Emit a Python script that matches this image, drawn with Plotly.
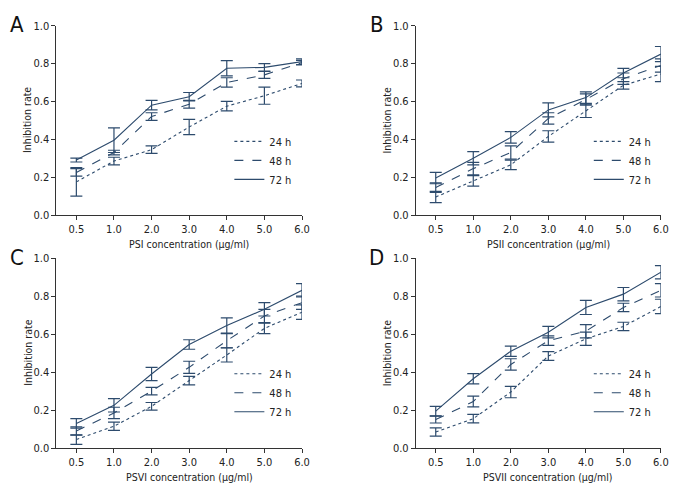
import plotly.graph_objects as go

conc_labels = ["0.5", "1.0", "2.0", "3.0", "4.0", "5.0", "6.0"]
series_names = ["24 h", "48 h", "72 h"]
panel_letters = ["A", "B", "C", "D"]
panel_xtitles = ["PSI concentration (μg/ml)", "PSII concentration (μg/ml)",
                 "PSVI concentration (μg/ml)", "PSVII concentration (μg/ml)"]
y_ticks = [0.0, 0.2, 0.4, 0.6, 0.8, 1.0]

# Panel A (PSI)
a_24 = [0.175, 0.285, 0.345, 0.465, 0.575, 0.63, 0.695]
a_24_err = [0.075, 0.02, 0.02, 0.04, 0.025, 0.045, 0.018]
a_48 = [0.225, 0.33, 0.52, 0.585, 0.70, 0.74, 0.805]
a_48_err = [0.02, 0.012, 0.02, 0.02, 0.025, 0.018, 0.012]
a_72 = [0.29, 0.395, 0.58, 0.625, 0.775, 0.78, 0.81]
a_72_err = [0.01, 0.065, 0.025, 0.022, 0.04, 0.02, 0.015]

# Panel B (PSII)
b_24 = [0.095, 0.18, 0.265, 0.415, 0.55, 0.685, 0.745]
b_24_err = [0.03, 0.028, 0.025, 0.03, 0.035, 0.02, 0.04]
b_48 = [0.145, 0.245, 0.33, 0.51, 0.61, 0.72, 0.79]
b_48_err = [0.025, 0.033, 0.035, 0.03, 0.03, 0.03, 0.035]
b_72 = [0.195, 0.30, 0.41, 0.555, 0.62, 0.75, 0.85]
b_72_err = [0.03, 0.035, 0.03, 0.037, 0.03, 0.025, 0.04]

# Panel C (PSVI)
c_24 = [0.045, 0.115, 0.22, 0.355, 0.49, 0.63, 0.715]
c_24_err = [0.025, 0.022, 0.02, 0.022, 0.037, 0.028, 0.038]
c_48 = [0.09, 0.185, 0.30, 0.425, 0.565, 0.695, 0.765]
c_48_err = [0.022, 0.03, 0.02, 0.032, 0.037, 0.035, 0.035]
c_72 = [0.13, 0.225, 0.39, 0.545, 0.645, 0.73, 0.83]
c_72_err = [0.025, 0.035, 0.035, 0.025, 0.04, 0.035, 0.035]

# Panel D (PSVII)
d_24 = [0.085, 0.155, 0.295, 0.485, 0.575, 0.64, 0.745]
d_24_err = [0.022, 0.022, 0.03, 0.023, 0.035, 0.022, 0.038]
d_48 = [0.15, 0.245, 0.44, 0.565, 0.615, 0.74, 0.83]
d_48_err = [0.018, 0.028, 0.03, 0.025, 0.035, 0.022, 0.035]
d_72 = [0.195, 0.365, 0.51, 0.61, 0.74, 0.81, 0.925]
d_72_err = [0.025, 0.027, 0.027, 0.03, 0.037, 0.035, 0.035]

panels = [
    [(a_24, a_24_err), (a_48, a_48_err), (a_72, a_72_err)],
    [(b_24, b_24_err), (b_48, b_48_err), (b_72, b_72_err)],
    [(c_24, c_24_err), (c_48, c_48_err), (c_72, c_72_err)],
    [(d_24, d_24_err), (d_48, d_48_err), (d_72, d_72_err)],
]

# page has an 8px body margin: figure is 680x488 placed at (8, 8)
OFF = 8
W, H = 680, 488
COLOR = "#2d4b6d"
FONT = "Liberation Sans Narrow, DejaVu Sans Condensed, Roboto Condensed, Arial Narrow, sans-serif"
dashes = ["dot", "dash", "solid"]


def px(v):
    return (v - OFF) / W


def py(v):
    return 1 - (v - OFF) / H


# page-pixel geometry of the four panels: (left, right, top, bottom)
geo = [
    (57.0, 305.5, 20.0, 214.5),
    (420.7, 668.7, 20.0, 214.5),
    (57.0, 305.5, 258.7, 454.0),
    (420.7, 668.7, 258.7, 454.0),
]

fig = go.Figure()
annotations = []
layout = {}

for p, (series, (l, r, t, b)) in enumerate(zip(panels, geo)):
    idx = "" if p == 0 else str(p + 1)
    xa, ya = "x" + idx, "y" + idx
    lg = "legend" + idx
    for s, ((vals, errs), name) in enumerate(zip(series, series_names)):
        fig.add_trace(go.Scatter(
            x=conc_labels, y=vals, name=name, mode="lines",
            line=dict(color=COLOR, width=1.1, dash=dashes[s]),
            error_y=dict(type="data", array=errs, visible=True, color=COLOR,
                         thickness=1.2, width=6),
            xaxis=xa, yaxis=ya, legend=lg, showlegend=True,
        ))
    layout["xaxis" + idx] = dict(
        domain=[px(l), px(r)], anchor=ya, type="category",
        range=[-0.53, 6], showgrid=False, zeroline=False,
        showline=True, linecolor="#333", linewidth=1,
        ticks="outside", ticklen=4, tickcolor="#333",
        tickfont=dict(size=11, color="#222", family=FONT),
    )
    layout["yaxis" + idx] = dict(
        domain=[py(b), py(t)], anchor=xa, range=[0, 1],
        tickvals=y_ticks, tickformat=".1f", showgrid=False, zeroline=False,
        showline=True, linecolor="#333", linewidth=1,
        ticks="outside", ticklen=4, tickcolor="#333",
        tickfont=dict(size=11, color="#222", family=FONT),
    )
    layout[lg] = dict(
        x=px(l + 175), y=py(t + 104), xanchor="left", yanchor="top",
        bgcolor="rgba(0,0,0,0)", font=dict(size=11, color="#222", family=FONT),
        tracegroupgap=0, itemwidth=30,
    )
    # panel letter
    annotations.append(dict(
        text=panel_letters[p], x=px(l - 39.5), y=py(t - 1),
        xref="paper", yref="paper", xanchor="center", yanchor="middle",
        showarrow=False, font=dict(size=22, color="#111", family=FONT),
    ))
    # y title
    annotations.append(dict(
        text="Inhibition rate", x=px(l - 29), y=py((t + b) / 2),
        xref="paper", yref="paper", xanchor="center", yanchor="middle",
        textangle=-90, showarrow=False,
        font=dict(size=10.5, color="#222", family=FONT),
    ))
    # x title
    annotations.append(dict(
        text=panel_xtitles[p], x=px((l + r) / 2 + 10), y=py(b + 29.5),
        xref="paper", yref="paper", xanchor="center", yanchor="middle",
        showarrow=False, font=dict(size=10.5, color="#222", family=FONT),
    ))

fig.update_layout(
    width=W, height=H, margin=dict(l=0, r=0, t=0, b=0),
    paper_bgcolor="white", plot_bgcolor="white",
    annotations=annotations, font=dict(family=FONT), **layout,
)

fig.write_html("out.html")
